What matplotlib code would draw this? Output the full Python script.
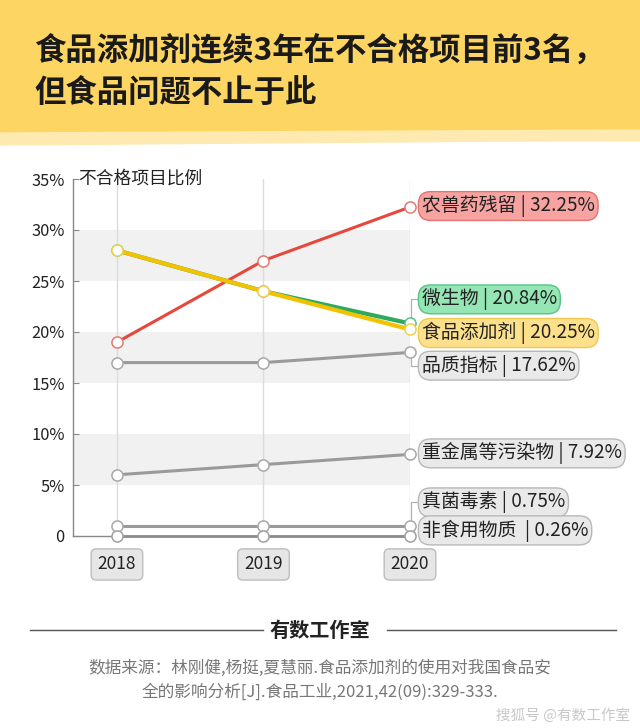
import matplotlib.pyplot as plt
from matplotlib.patches import Rectangle, Polygon
from matplotlib.lines import Line2D

plt.rcParams['font.family'] = ['Noto Sans CJK SC', 'DejaVu Sans']
plt.rcParams['axes.unicode_minus'] = False

years = [2018, 2019, 2020]
series_names = ['农兽药残留', '微生物', '食品添加剂', '品质指标', '重金属等污染物', '真菌毒素', '非食用物质']
pesticide = [19, 27, 32.25]
microbe = [28, 24, 20.84]
additive = [28, 24, 20.25]
quality = [17, 17, 18]
heavy_metal = [6, 7, 8]
mycotoxin = [1, 1, 1]
non_food = [0, 0, 0]
label_texts = ['农兽药残留 | 32.25%', '微生物 | 20.84%', '食品添加剂 | 20.25%',
               '品质指标 | 17.62%', '重金属等污染物 | 7.92%', '真菌毒素 | 0.75%',
               '非食用物质  | 0.26%']
y_ticks = [0, 5, 10, 15, 20, 25, 30, 35]
y_tick_labels = ['0', '5%', '10%', '15%', '20%', '25%', '30%', '35%']

# label placement (data units) and styling
label_y = [32.35, 23.2, 19.9, 16.7, 8.1, 3.3, 0.55]
line_colors = ['#e8473b', '#2caa5e', '#f2c200', '#9a9a9a', '#9a9a9a', '#9a9a9a', '#8c8c8c']
marker_edges = ['#e07a72', '#5cc08a', '#f0cf50', '#a8a8a8', '#a8a8a8', '#a8a8a8', '#a0a0a0']
line_widths = [2.2, 3.0, 3.0, 2.2, 2.2, 2.2, 2.0]
pill_fill = ['#f6a3a1', '#95e5b5', '#fde08c', '#e9e9e9', '#e9e9e9', '#e9e9e9', '#e9e9e9']
pill_edge = ['#e37370', '#55c485', '#f1c84f', '#b8b8b8', '#b8b8b8', '#b8b8b8', '#b8b8b8']
draw_order = [6, 5, 4, 3, 0, 1, 2]

fig = plt.figure(figsize=(6.4, 7.28), dpi=100)

# header band
fig.patches.append(Rectangle((0, 1 - 140 / 728), 1, 140 / 728, transform=fig.transFigure,
                             color='#fdd562', zorder=0))
fig.patches.append(Polygon([(0, 1 - 133 / 728), (1, 1 - 130 / 728), (1, 1 - 140 / 728),
                            (0, 1 - 145 / 728)], closed=True, transform=fig.transFigure,
                           color='#feeab0', zorder=0))
fig.text(0.054, 1 - 51 / 728, '食品添加剂连续3年在不合格项目前3名，', fontsize=22.6,
         fontweight='bold', color='#1a1a1a', va='center', ha='left')
fig.text(0.054, 1 - 93 / 728, '但食品问题不止于此', fontsize=22.6,
         fontweight='bold', color='#1a1a1a', va='center', ha='left')

ax = fig.add_axes([73 / 640, 1 - 536 / 728, 337 / 640, 357 / 728])
ax.set_xlim(2017.7, 2020)
ax.set_ylim(0, 35)

for lo in (5, 15, 25):
    ax.axhspan(lo, lo + 5, color='#f1f1f1', zorder=0, lw=0)
for yr in years:
    ax.axvline(yr, color='#dcdcdc', lw=1, zorder=1)

all_series = [pesticide, microbe, additive, quality, heavy_metal, mycotoxin, non_food]
for i in draw_order:
    ax.plot(years, all_series[i], color=line_colors[i], lw=line_widths[i], zorder=3 + i * 0.1,
            marker='o', markersize=8, markerfacecolor='white', markeredgecolor=marker_edges[i],
            markeredgewidth=1.1, clip_on=False)

# labels with connectors
for i, txt in enumerate(label_texts):
    last = all_series[i][-1]
    if abs(label_y[i] - last) > 1.0:
        ln = Line2D([2020.005, 2020.005, 2020.06], [last, label_y[i], label_y[i]],
                    color='#b0b0b0', lw=0.9, clip_on=False, zorder=2)
        ax.add_line(ln)
    ax.annotate(txt, xy=(2020, label_y[i]), xytext=(8.5, 0), textcoords='offset points',
                ha='left', va='center', fontsize=13.6, color='#222222', annotation_clip=False,
                bbox=dict(boxstyle='round,pad=0.18,rounding_size=0.65', fc=pill_fill[i],
                          ec=pill_edge[i], lw=1.0), zorder=6)

ax.text(2017.735, 35, '不合格项目比例', fontsize=12.8, color='#222222', va='center', ha='left')

ax.set_yticks(y_ticks)
ax.set_yticklabels(y_tick_labels)
ax.set_xticks(years)
ax.set_xticklabels([str(y) for y in years])
ax.tick_params(axis='y', length=4, direction='in', color='#888888', labelsize=11.8,
               labelcolor='#222222', pad=6)
ax.tick_params(axis='x', length=0, labelsize=12.5, labelcolor='#222222', pad=14)
for lbl in ax.get_xticklabels():
    lbl.set_bbox(dict(boxstyle='round,pad=0.38,rounding_size=0.3', fc='#e6e6e6', ec='#bdbdbd', lw=1))

for s in ('top', 'right'):
    ax.spines[s].set_visible(False)
ax.spines['left'].set_color('#888888')
ax.spines['bottom'].set_color('#888888')
ax.spines['left'].set_linewidth(1.0)
ax.spines['bottom'].set_linewidth(1.0)
ax.set_facecolor('none')

# footer
fig.add_artist(Line2D([30 / 640, 263 / 640], [1 - 630 / 728] * 2, transform=fig.transFigure,
                      color='#555555', lw=1))
fig.add_artist(Line2D([387 / 640, 616 / 640], [1 - 630 / 728] * 2, transform=fig.transFigure,
                      color='#555555', lw=1))
fig.text(0.5, 1 - 630 / 728, '有数工作室', fontsize=14.5, fontweight='bold', color='#222222',
         ha='center', va='center')
fig.text(0.5, 1 - 668 / 728, '数据来源：林刚健,杨挺,夏慧丽.食品添加剂的使用对我国食品安',
         fontsize=12, color='#777777', ha='center', va='center')
fig.text(0.5, 1 - 692 / 728, '全的影响分析[J].食品工业,2021,42(09):329-333.',
         fontsize=12, color='#777777', ha='center', va='center')
fig.text(0.985, 1 - 716 / 728, '搜狐号 @有数工作室', fontsize=10.5, color='#c8c8c8',
         ha='right', va='center', style='italic')

fig.savefig('out.png', dpi=100)
